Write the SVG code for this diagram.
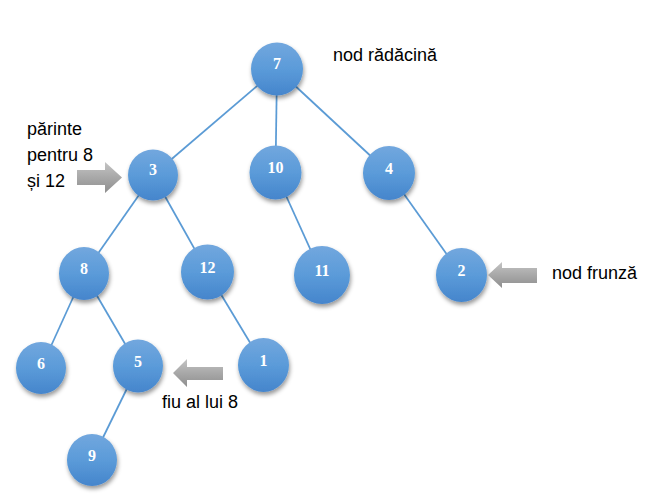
<svg xmlns="http://www.w3.org/2000/svg" width="664" height="502" viewBox="0 0 664 502">
<style>
.edge{stroke:#5b9bd5;stroke-width:1.75;fill:none}
.node{fill:url(#ng);filter:url(#sh)}
.lbl{font-family:"Liberation Serif","DejaVu Serif",serif;font-weight:bold;font-size:16px;fill:#ffffff;text-anchor:middle}
.note{font-family:"Liberation Sans",Arial,sans-serif;font-size:18px;fill:#000000}
.arrow{fill:url(#ag)}
</style>
<defs>
<linearGradient id="ng" x1="0" y1="0" x2="0" y2="1">
<stop offset="0" stop-color="#72a7de"/>
<stop offset="0.5" stop-color="#5b9bd9"/>
<stop offset="1" stop-color="#4585cc"/>
</linearGradient>
<linearGradient id="ag" x1="0" y1="0" x2="0" y2="1">
<stop offset="0" stop-color="#c4c4c4"/>
<stop offset="0.5" stop-color="#a8a8a8"/>
<stop offset="1" stop-color="#8e8e8e"/>
</linearGradient>
<filter id="sh" x="-30%" y="-30%" width="160%" height="170%">
<feDropShadow dx="1" dy="3" stdDeviation="2" flood-color="#000000" flood-opacity="0.4"/>
</filter>
</defs>
<rect width="664" height="502" fill="#ffffff"/>
<g id="connectors">
<line class="edge" x1="277" y1="69" x2="153" y2="175"/>
<line class="edge" x1="277" y1="69" x2="275.5" y2="172.5"/>
<line class="edge" x1="277" y1="69" x2="389" y2="173"/>
<line class="edge" x1="153" y1="175" x2="84" y2="273.5"/>
<line class="edge" x1="153" y1="175" x2="207.5" y2="272"/>
<line class="edge" x1="275.5" y1="172.5" x2="322" y2="275"/>
<line class="edge" x1="389" y1="173" x2="461.5" y2="275"/>
<line class="edge" x1="84" y1="273.5" x2="41" y2="368"/>
<line class="edge" x1="84" y1="273.5" x2="138" y2="366"/>
<line class="edge" x1="207.5" y1="272" x2="263.5" y2="365"/>
<line class="edge" x1="138" y1="366" x2="92" y2="460"/>
</g>
<g id="n7"><ellipse class="node" cx="277" cy="69" rx="26" ry="26.5"/><text class="lbl" x="277" y="69">7</text></g>
<g id="n3"><ellipse class="node" cx="153" cy="175" rx="25" ry="25.5"/><text class="lbl" x="153" y="175">3</text></g>
<g id="n10"><ellipse class="node" cx="275.5" cy="172.5" rx="26" ry="27"/><text class="lbl" x="275.5" y="173">10</text></g>
<g id="n4"><ellipse class="node" cx="389" cy="173" rx="26" ry="27"/><text class="lbl" x="389" y="174">4</text></g>
<g id="n8"><ellipse class="node" cx="84" cy="273.5" rx="25" ry="26.5"/><text class="lbl" x="84" y="274">8</text></g>
<g id="n12"><ellipse class="node" cx="207.5" cy="272" rx="26.5" ry="27.5"/><text class="lbl" x="207.5" y="272.5">12</text></g>
<g id="n11"><ellipse class="node" cx="322" cy="275" rx="28" ry="29"/><text class="lbl" x="322" y="275.5">11</text></g>
<g id="n2"><ellipse class="node" cx="461.5" cy="275" rx="25.5" ry="27"/><text class="lbl" x="461.5" y="276">2</text></g>
<g id="n6"><ellipse class="node" cx="41" cy="368" rx="25" ry="26"/><text class="lbl" x="41" y="369">6</text></g>
<g id="n5"><ellipse class="node" cx="138" cy="366" rx="25" ry="26.5"/><text class="lbl" x="138" y="367">5</text></g>
<g id="n1"><ellipse class="node" cx="263.5" cy="365" rx="25.5" ry="27"/><text class="lbl" x="263.5" y="366">1</text></g>
<g id="n9"><ellipse class="node" cx="92" cy="460" rx="25" ry="26"/><text class="lbl" x="92" y="461">9</text></g>
<g id="arrows">
<polygon class="arrow" points="77,170 105,170 105,162 122,177.5 105,193 105,185 77,185"/>
<polygon class="arrow" points="537,268 502,268 502,262 488,275 502,288 502,283 537,283"/>
<polygon class="arrow" points="223,367 187,367 187,359 173,373 187,387 187,380 223,380"/>
</g>
<g id="notes">
<text class="note" x="333" y="61">nod rădăcină</text>
<text class="note" x="27" y="135">părinte</text>
<text class="note" x="27" y="161">pentru 8</text>
<text class="note" x="27" y="187">și 12</text>
<text class="note" x="552" y="279">nod frunză</text>
<text class="note" x="162" y="408">fiu al lui 8</text>
</g>
</svg>
